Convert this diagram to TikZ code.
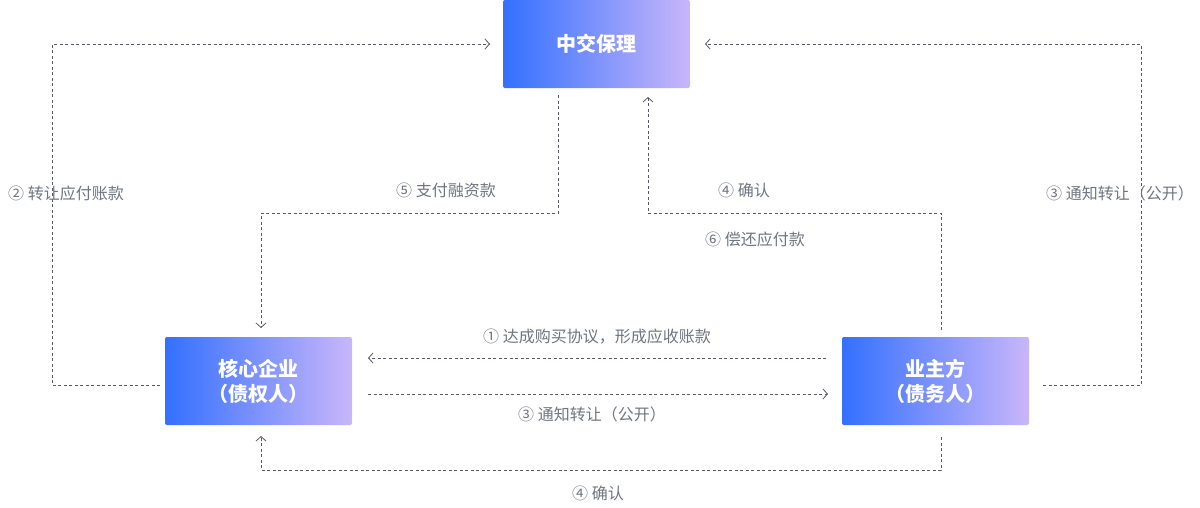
\documentclass[tikz,border=0pt]{standalone}
\usepackage{fontspec}
\setmainfont{Noto Sans CJK SC}
\usetikzlibrary{arrows.meta}
\definecolor{lbl}{HTML}{6F7580}
\definecolor{ln}{HTML}{555A63}
\definecolor{gA}{HTML}{3370FF}
\definecolor{gB}{HTML}{C9B6FA}
\begin{document}
\begin{tikzpicture}[x=1pt,y=-1pt,
 box/.style={minimum width=187pt,minimum height=88pt,rounded corners=2pt,left color=gA,right color=gB,text=white,font=\fontsize{20}{25}\selectfont\bfseries,align=center,inner sep=0pt},
 conn/.style={draw=ln,line width=0.8pt,dash pattern=on 3pt off 2.5pt,-{Straight Barb[length=4.5pt,width=10pt]}},
 lab/.style={text=lbl,font=\fontsize{16}{19}\selectfont,inner sep=0pt}]
\useasboundingbox (0,0) rectangle (1200,507);
\node[box] (top) at (596.5,44) {中交保理};
\node[box] (left) at (258.5,381) {核心企业\\（债权人）};
\node[box] (right) at (935.5,381) {业主方\\（债务人）};
\coordinate (l2) at (160,385);
\coordinate (r3) at (1043,385);
\draw[conn] (l2) -- (52,385) -- (52,44) -- (490,44);
\draw[conn] (r3) -- (1141,385) -- (1141,44) -- (705,44);
\draw[conn] (558,95) -- (558,213) -- (261,213) -- (261,328);
\draw[conn] (941,330) -- (941,213) -- (648,213) -- (648,97);
\draw[conn] (826,358) -- (368,358);
\draw[conn] (368,394) -- (828,394);
\draw[conn] (941,437) -- (941,470) -- (261,470) -- (261,436);
\node[lab] (t2) at (66,193) {② 转让应付账款};
\node[lab] (t5) at (446,190) {⑤ 支付融资款};
\node[lab] (t3a) at (1120,193) {③ 通知转让（公开）};
\node[lab] (t4a) at (744,190) {④ 确认};
\node[lab] (t6) at (755,239) {⑥ 偿还应付款};
\node[lab] (t1) at (597,337) {① 达成购买协议，形成应收账款};
\node[lab] (t3b) at (592,414) {③ 通知转让（公开）};
\node[lab] (t4b) at (598,493) {④ 确认};
\end{tikzpicture}
\end{document}
